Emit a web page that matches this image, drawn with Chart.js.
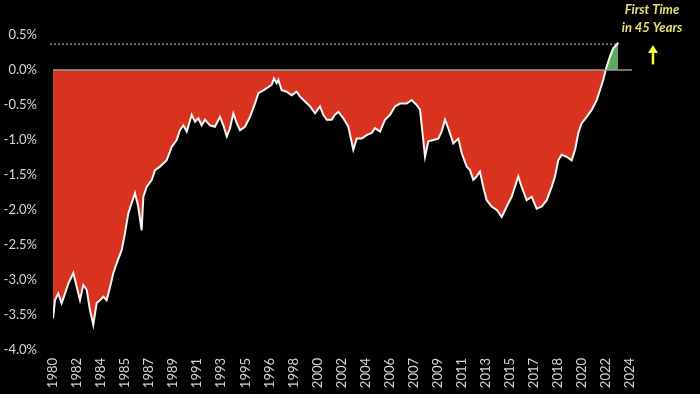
<!DOCTYPE html>
<html>
<head>
<meta charset="utf-8">
<script src="https://cdn.jsdelivr.net/npm/chart.js@4.4.1/dist/chart.umd.min.js"></script>
<style>
  html, body { margin: 0; padding: 0; background: #000; overflow: hidden; }
  #wrap { position: relative; width: 700px; height: 394px; }
</style>
</head>
<body>
<div id="wrap"><canvas id="chart"></canvas></div>
<script>
// x labels along the bottom (evenly spaced between 1980 and 2024)
const xLabels = ['1980','1982','1984','1985','1987','1989','1991','1993','1995','1996','1998','2000','2002',
  '2004','2006','2007','2009','2011','2013','2015','2017','2018','2020','2022','2024'];

// fractional year, spread in %
const years = [
  1980.00,1980.15,1980.40,1980.66,1980.92,1981.17,1981.55,1981.81,1982.06,1982.31,
  1982.57,1982.82,1983.07,1983.33,1983.58,1983.84,1984.09,1984.35,1984.60,1984.86,
  1985.24,1985.49,1985.74,1986.00,1986.25,1986.50,1986.76,1986.89,1987.14,1987.53,
  1987.78,1988.16,1988.67,1989.05,1989.43,1989.68,1989.94,1990.20,1990.58,1990.83,
  1991.08,1991.34,1991.59,1991.97,1992.35,1992.73,1992.99,1993.25,1993.50,1993.75,
  1994.01,1994.26,1994.64,1995.02,1995.40,1995.66,1996.04,1996.30,1996.68,1996.85,
  1997.06,1997.18,1997.44,1997.82,1998.20,1998.58,1998.84,1999.22,1999.60,1999.98,
  2000.36,2000.61,2000.87,2001.25,2001.50,2001.76,2002.14,2002.52,2002.90,2003.16,
  2003.54,2003.92,2004.30,2004.55,2004.94,2005.32,2005.70,2006.08,2006.46,2006.97,
  2007.35,2007.73,2007.99,2008.37,2008.62,2009.00,2009.38,2009.64,2009.89,2010.14,
  2010.53,2010.91,2011.17,2011.55,2011.80,2012.05,2012.31,2012.56,2012.81,2013.07,
  2013.45,2013.84,2014.22,2014.60,2014.98,2015.48,2015.74,2016.12,2016.50,2016.88,
  2017.27,2017.65,2018.03,2018.28,2018.53,2018.79,2019.17,2019.55,2019.81,2020.06,
  2020.32,2020.70,2021.08,2021.46,2021.71,2021.96,2022.22,2022.47,2022.72,2022.98,
  2023.10
];
const spread = [
  -3.55,-3.29,-3.19,-3.33,-3.19,-3.05,-2.90,-3.10,-3.29,-3.07,
  -3.14,-3.43,-3.64,-3.33,-3.29,-3.24,-3.29,-3.10,-2.90,-2.76,
  -2.57,-2.33,-2.05,-1.90,-1.76,-1.95,-2.29,-1.81,-1.67,-1.57,
  -1.43,-1.38,-1.29,-1.10,-1.00,-0.86,-0.79,-0.88,-0.64,-0.74,
  -0.69,-0.79,-0.71,-0.79,-0.81,-0.67,-0.79,-0.95,-0.83,-0.62,
  -0.76,-0.86,-0.81,-0.67,-0.48,-0.33,-0.29,-0.26,-0.21,-0.12,
  -0.19,-0.14,-0.29,-0.31,-0.36,-0.31,-0.38,-0.45,-0.52,-0.62,
  -0.52,-0.64,-0.71,-0.71,-0.64,-0.60,-0.69,-0.81,-1.14,-0.98,
  -0.98,-0.93,-0.90,-0.83,-0.88,-0.71,-0.64,-0.52,-0.48,-0.48,
  -0.43,-0.50,-0.57,-1.24,-1.02,-1.00,-0.98,-0.88,-0.71,-0.83,
  -1.05,-0.98,-1.19,-1.38,-1.43,-1.57,-1.52,-1.45,-1.67,-1.86,
  -1.95,-2.00,-2.10,-1.95,-1.81,-1.52,-1.67,-1.86,-1.81,-1.98,
  -1.95,-1.86,-1.67,-1.52,-1.29,-1.21,-1.24,-1.29,-1.14,-0.90,
  -0.76,-0.67,-0.57,-0.43,-0.29,-0.14,0.05,0.19,0.31,0.36,
  0.39
];

const refLevel = 0.37;          // dotted line at latest high
const note = ['First Time', 'in 45 Years'];

const points = years.map((y, i) => ({ x: y, y: spread[i] }));
const tickStep = (2024 - 1980) / (xLabels.length - 1);

const refLines = {
  id: 'refLines',
  afterDatasetsDraw(chart) {
    const { ctx, chartArea, scales: { x, y } } = chart;
    ctx.save();
    // dotted level line
    const yr = y.getPixelForValue(refLevel);
    ctx.strokeStyle = '#d8d8a8';
    ctx.lineWidth = 1;
    ctx.setLineDash([2, 2]);
    ctx.beginPath();
    ctx.moveTo(chartArea.left - 3, yr);
    ctx.lineTo(x.getPixelForValue(years[years.length - 1]), yr);
    ctx.stroke();
    // zero line
    ctx.setLineDash([]);
    ctx.strokeStyle = '#9c9c9c';
    ctx.lineWidth = 1.5;
    const y0 = y.getPixelForValue(0);
    ctx.beginPath();
    ctx.moveTo(chartArea.left, y0);
    ctx.lineTo(chartArea.right + 2, y0);
    ctx.stroke();
    // annotation
    const cx = chartArea.right + 22;
    ctx.fillStyle = '#e2e272';
    ctx.font = 'italic bold 13px Lato';
    ctx.textAlign = 'center';
    ctx.textBaseline = 'middle';
    ctx.fillText(note[0], cx, 10);
    ctx.fillText(note[1], cx, 28);
    // arrow
    const top = y.getPixelForValue(refLevel) + 1;
    const bot = y.getPixelForValue(0.08);
    ctx.strokeStyle = '#f8f83c';
    ctx.fillStyle = '#f8f83c';
    ctx.lineWidth = 2.5;
    ctx.beginPath();
    ctx.moveTo(cx + 1, bot);
    ctx.lineTo(cx + 1, top + 6);
    ctx.stroke();
    ctx.beginPath();
    ctx.moveTo(cx + 1, top);
    ctx.lineTo(cx - 4, top + 8);
    ctx.lineTo(cx + 6, top + 8);
    ctx.closePath();
    ctx.fill();
    ctx.restore();
  }
};

new Chart(document.getElementById('chart'), {
  type: 'line',
  data: {
    datasets: [{
      data: points,
      borderColor: '#f4f4f4',
      borderWidth: 2,
      pointRadius: 0,
      tension: 0,
      fill: { target: 'origin', above: '#5fa85c', below: '#d8331f' }
    }]
  },
  options: {
    responsive: true,
    maintainAspectRatio: false,
    animation: false,
    layout: { padding: { top: 35, right: 70, left: 0, bottom: 0 } },
    plugins: { legend: { display: false }, tooltip: { enabled: false } },
    scales: {
      x: {
        type: 'linear',
        min: 1980,
        max: 2024,
        grid: { display: false, drawTicks: false },
        border: { display: false },
        afterBuildTicks(axis) {
          axis.ticks = xLabels.map((_, i) => ({ value: 1980 + i * tickStep }));
        },
        afterFit(axis) { axis.height = 44; },
        ticks: {
          autoSkip: false,
          minRotation: 90,
          maxRotation: 90,
          padding: 8,
          color: '#d6d6d6',
          font: { family: 'Lato', size: 13 },
          callback: (v, i) => xLabels[i]
        }
      },
      y: {
        min: -4,
        max: 0.5,
        grid: { display: false, drawTicks: false },
        border: { display: false },
        afterFit(axis) { axis.width = 53; },
        ticks: {
          stepSize: 0.5,
          padding: 16,
          color: '#d6d6d6',
          font: { family: 'Lato', size: 13 },
          callback: v => v.toFixed(1) + '%'
        }
      }
    }
  },
  plugins: [refLines]
});
</script>
</body>
</html>
